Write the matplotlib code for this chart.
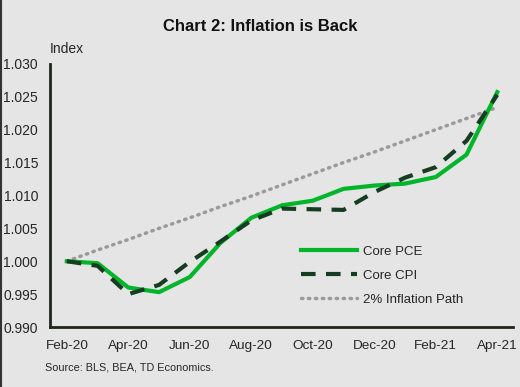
import matplotlib
matplotlib.use("Agg")
import matplotlib.pyplot as plt
from matplotlib.lines import Line2D

plt.rcParams['font.family'] = ['Liberation Sans', 'DejaVu Sans']

months = ["Feb-20", "Mar-20", "Apr-20", "May-20", "Jun-20", "Jul-20", "Aug-20", "Sep-20",
          "Oct-20", "Nov-20", "Dec-20", "Jan-21", "Feb-21", "Mar-21", "Apr-21"]
core_pce = [1.0000, 0.9997, 0.9960, 0.9953, 0.9976, 1.0028, 1.0066, 1.0085,
            1.0092, 1.0110, 1.0115, 1.0118, 1.0128, 1.0162, 1.0257]
core_cpi = [1.0000, 0.9993, 0.9950, 0.9964, 0.9999, 1.0030, 1.0062, 1.0080,
            1.0079, 1.0078, 1.0105, 1.0127, 1.0143, 1.0183, 1.0253]
infl_path = [1.0000, 1.0017, 1.0033, 1.0050, 1.0066, 1.0083, 1.0099, 1.0116,
             1.0133, 1.0150, 1.0166, 1.0183, 1.0200, 1.0217, 1.0234]
yticks = [0.990, 0.995, 1.000, 1.005, 1.010, 1.015, 1.020, 1.025, 1.030]

bg = "#e5e5e5"
txt = "#262626"
fig = plt.figure(figsize=(5.2, 3.87), dpi=100, facecolor=bg)
ax = fig.add_axes([0.096, 0.155, 0.891, 0.68])
ax.set_facecolor(bg)

x = list(range(len(months)))
ax.plot(x, core_pce, color="#00b52a", lw=3, label="Core PCE", zorder=3)
ax.plot(x, core_cpi, color="#163d22", lw=3, dashes=(3.5, 2.5), label="Core CPI", zorder=4)
ax.plot(x, infl_path, color="#9a9a9a", lw=2.5, linestyle=(0, (0.4, 1.6)),
        dash_capstyle="round", label="2% Inflation Path", zorder=2)

ax.set_xlim(-0.55, 14.52)
ax.set_ylim(0.990, 1.030)
ax.set_yticks(yticks)
ax.set_yticklabels([f"{v:.3f}" for v in yticks])
ax.set_xticks(x[::2])
ax.set_xticklabels(months[::2])
ax.tick_params(length=0, colors=txt)
ax.tick_params(axis="x", labelsize=9.7, pad=9)
ax.tick_params(axis="y", labelsize=10, pad=8.5)

for s in ["top", "right"]:
    ax.spines[s].set_visible(False)
for s in ["left", "bottom"]:
    ax.spines[s].set_color("#1f261c")
    ax.spines[s].set_linewidth(2)

ax.text(0.0, 1.03, "Index", transform=ax.transAxes, fontsize=10, va="bottom", ha="left",
        color=txt)

leg = ax.legend(loc="upper left", bbox_to_anchor=(0.517, 0.355), frameon=False, fontsize=9.5,
                handlelength=4.2, labelspacing=0.9, handletextpad=0.5)
for t in leg.get_texts():
    t.set_color(txt)

fig.text(0.5, 0.932, "Chart 2: Inflation is Back", ha="center", va="center",
         fontsize=12, fontweight="bold", color="#111111")
fig.text(0.087, 0.05, "Source: BLS, BEA, TD Economics.", ha="left", va="center",
         fontsize=7.8, color=txt)

# dark edge on the left side only
fig.lines.append(Line2D([0.002, 0.002], [0, 1], transform=fig.transFigure,
                        color="#333333", lw=1.5))

fig.savefig("out.png", dpi=100, facecolor=bg)
